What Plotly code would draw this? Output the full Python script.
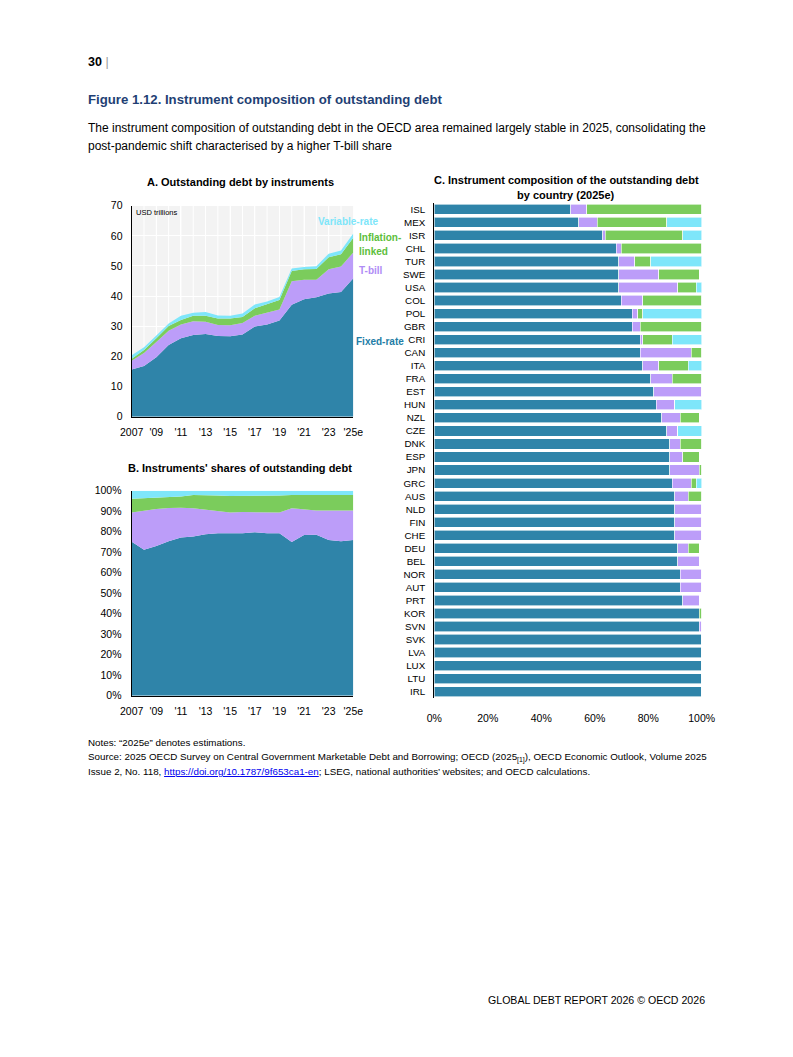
import plotly.graph_objects as go

# ---------------- DATA ----------------
years = list(range(2007, 2026))
year_tickvals = [2007, 2009, 2011, 2013, 2015, 2017, 2019, 2021, 2023, 2025]
year_ticktext = ["2007", "'09", "'11", "'13", "'15", "'17", "'19", "'21", "'23", "'25e"]

# Panel A: outstanding debt by instrument, USD trillions
fixed_usd    = [15.7, 16.8, 19.7, 23.8, 26.0, 27.1, 27.4, 26.8, 26.7, 27.3, 29.9, 30.6, 31.9, 37.1, 39.0, 39.6, 40.9, 41.4, 45.9]
tbill_usd    = [2.9, 4.3, 5.1, 4.7, 4.6, 4.6, 4.1, 3.6, 3.6, 3.8, 3.6, 3.9, 3.7, 7.8, 6.4, 5.8, 8.0, 8.4, 8.6]
infl_usd     = [0.6, 1.0, 1.2, 1.6, 1.5, 1.8, 2.0, 2.2, 2.3, 2.0, 2.5, 2.8, 3.1, 3.4, 3.5, 3.6, 4.0, 4.1, 4.9]
var_usd      = [1.2, 0.9, 0.9, 0.8, 1.4, 1.0, 1.2, 1.0, 0.9, 1.1, 1.2, 0.9, 1.0, 0.9, 0.8, 0.9, 1.2, 1.2, 1.4]

# Panel B: shares of outstanding debt, %
fixed_pct    = [75.1, 71.2, 73.0, 75.4, 77.2, 77.6, 78.7, 79.2, 79.2, 79.2, 79.7, 79.2, 79.2, 75.0, 78.4, 78.5, 75.9, 75.4, 75.9]
tbill_pct    = [14.3, 19.2, 18.1, 16.1, 14.5, 13.8, 12.0, 10.7, 10.2, 10.4, 9.9, 10.4, 10.2, 16.4, 12.5, 11.9, 14.5, 15.0, 14.5]
infl_pct     = [6.7, 5.9, 5.5, 5.4, 5.5, 6.5, 7.2, 7.7, 8.0, 7.8, 7.8, 7.8, 8.2, 6.5, 7.0, 7.5, 7.5, 7.5, 7.5]
var_pct      = [3.9, 3.7, 3.4, 3.1, 2.8, 2.1, 2.1, 2.4, 2.6, 2.6, 2.6, 2.6, 2.4, 2.1, 2.1, 2.1, 2.1, 2.1, 2.1]

# Panel C: composition by country, 2025e, %
countries = ["ISL", "MEX", "ISR", "CHL", "TUR", "SWE", "USA", "COL", "POL", "GBR", "CRI", "CAN", "ITA",
             "FRA", "EST", "HUN", "NZL", "CZE", "DNK", "ESP", "JPN", "GRC", "AUS", "NLD", "FIN", "CHE",
             "DEU", "BEL", "NOR", "AUT", "PRT", "KOR", "SVN", "SVK", "LVA", "LUX", "LTU", "IRL"]
fixed_c = [51, 54, 63, 68, 69, 69, 69, 70, 74, 74, 77, 77, 78, 81, 82, 83, 85, 87, 88, 88, 88, 89, 90, 90, 90, 90,
           91, 91, 92, 92, 93, 99, 99, 100, 100, 100, 100, 100]
tbill_c = [6, 7, 1, 2, 6, 15, 22, 8, 2, 3, 1, 19, 6, 8, 18, 7, 7, 4, 4, 5, 11, 7, 5, 10, 10, 10,
           4, 8, 8, 8, 6, 0, 1, 0, 0, 0, 0, 0]
infl_c  = [43, 26, 29, 30, 6, 15, 7, 22, 2, 23, 11, 4, 11, 11, 0, 0, 7, 0, 8, 6, 1, 2, 5, 0, 0, 0,
           4, 0, 0, 0, 0, 1, 0, 0, 0, 0, 0, 0]
var_c   = [0, 13, 7, 0, 19, 0, 2, 0, 22, 0, 11, 0, 5, 0, 0, 10, 0, 9, 0, 0, 0, 2, 0, 0, 0, 0,
           0, 0, 0, 0, 0, 0, 0, 0, 0, 0, 0, 0]
pct_ticks = [0, 20, 40, 60, 80, 100]
pct_labels = ["0%", "20%", "40%", "60%", "80%", "100%"]

# ---------------- STYLE ----------------
OFF = 8  # default body margin of the html page
W, H = 793 - 2 * OFF, 1057 - 2 * OFF
C_FIXED, C_TBILL, C_INFL, C_VAR = "#2F84A9", "#BC9DF9", "#7BCC5C", "#7EE6FA"
FONT = "Liberation Sans, Arial, sans-serif"
NAVY = "#1F3F74"


def px(x):
    return (x - OFF) / W


def py(y):
    return 1 - (y - OFF) / H


fig = go.Figure()

# Panel A
for name, vals, col in [("Fixed-rate", fixed_usd, C_FIXED), ("T-bill", tbill_usd, C_TBILL),
                        ("Inflation-linked", infl_usd, C_INFL), ("Variable-rate", var_usd, C_VAR)]:
    fig.add_trace(go.Scatter(x=years, y=vals, name=name, stackgroup="a", mode="lines",
                             line=dict(width=0, color=col), fillcolor=col,
                             xaxis="x", yaxis="y", showlegend=False))

# Panel B
for name, vals, col in [("Fixed-rate", fixed_pct, C_FIXED), ("T-bill", tbill_pct, C_TBILL),
                        ("Inflation-linked", infl_pct, C_INFL), ("Variable-rate", var_pct, C_VAR)]:
    fig.add_trace(go.Scatter(x=years, y=vals, name=name, stackgroup="b", mode="lines",
                             line=dict(width=0, color=col), fillcolor=col,
                             xaxis="x2", yaxis="y2", showlegend=False))

# Panel C
for name, vals, col in [("Fixed-rate", fixed_c, C_FIXED), ("T-bill", tbill_c, C_TBILL),
                        ("Inflation-linked", infl_c, C_INFL), ("Variable-rate", var_c, C_VAR)]:
    fig.add_trace(go.Bar(y=countries, x=vals, name=name, orientation="h",
                         marker=dict(color=col, line=dict(color="white", width=0.6)),
                         xaxis="x3", yaxis="y3", showlegend=False))

tickfont = dict(family=FONT, size=10.5, color="#000")

xa_common = dict(range=[2007, 2025], tickmode="array", tickvals=year_tickvals, ticktext=year_ticktext,
                 showline=True, linecolor="#000", linewidth=1.2, ticks="outside", ticklen=6,
                 tickcolor="rgba(0,0,0,0)", tickfont=tickfont, zeroline=False, automargin=False)

fig.update_layout(
    width=W, height=H, margin=dict(l=0, r=0, t=0, b=0, autoexpand=False),
    paper_bgcolor="white", plot_bgcolor="rgba(0,0,0,0)",
    barmode="stack", bargap=0.22,
    xaxis=dict(domain=[px(131.7), px(353.3)], anchor="y", **xa_common),
    yaxis=dict(domain=[py(416.7), py(205.7)], anchor="x", range=[0, 70], dtick=10,
               showline=True, linecolor="#000", linewidth=1.2, showgrid=True, gridcolor="white",
               gridwidth=1, ticks="outside", ticklen=6, tickcolor="rgba(0,0,0,0)", tickfont=tickfont,
               zeroline=False, automargin=False),
    xaxis2=dict(domain=[px(131.7), px(353.3)], anchor="y2", showgrid=False, **xa_common),
    yaxis2=dict(domain=[py(695.7), py(490.7)], anchor="x2", range=[0, 100], dtick=10, ticksuffix="%",
                showline=True, linecolor="#000", linewidth=1.2, showgrid=False,
                ticks="outside", ticklen=7, tickcolor="rgba(0,0,0,0)", tickfont=tickfont, zeroline=False,
                automargin=False),
    xaxis3=dict(domain=[px(434.3), px(701.7)], anchor="y3", range=[0, 100], tickmode="array",
                tickvals=pct_ticks, ticktext=pct_labels, showline=False, showgrid=False, zeroline=False,
                ticks="outside", ticklen=10, tickcolor="rgba(0,0,0,0)", tickfont=tickfont, automargin=False),
    yaxis3=dict(domain=[py(698.2), py(202.8)], anchor="x3", categoryorder="array", categoryarray=countries,
                tickmode="array", tickvals=countries, ticktext=countries,
                autorange="reversed", showline=True, linecolor="#000", linewidth=1.2, showgrid=False,
                ticks="outside", ticklen=6, tickcolor="rgba(0,0,0,0)",
                tickfont=dict(family=FONT, size=9.8, color="#000"), automargin=False),
)

# grey background with white grid for panel A
fig.add_shape(type="rect", xref="x", yref="y", x0=2007, x1=2025, y0=0, y1=70,
              fillcolor="#F3F3F3", line=dict(width=0), layer="below")
for yr in years[1:-1]:
    fig.add_shape(type="line", xref="x", yref="y", x0=yr, x1=yr, y0=0, y1=70,
                  line=dict(color="white", width=1), layer="below")

ann = []


def text(x, y, s, size, color="#000", xanchor="left", yanchor="middle", align="left"):
    ann.append(dict(x=px(x), y=py(y), xref="paper", yref="paper", text=s, showarrow=False,
                    font=dict(size=size, color=color, family=FONT), xanchor=xanchor,
                    yanchor=yanchor, align=align))


text(86, 62, "<b>30</b> <span style='color:#9a9a9a'>|</span>", 12.5)
text(86, 99, "<b>Figure 1.12. Instrument composition of outstanding debt</b>", 13.2, color=NAVY)
text(86, 128, "The instrument composition of outstanding debt in the OECD area remained largely stable in 2025, consolidating the", 12)
text(86, 146, "post-pandemic shift characterised by a higher T-bill share", 12)

text(240, 182, "<b>A. Outstanding debt by instruments</b>", 11, xanchor="center")
text(240, 468, "<b>B. Instruments' shares of outstanding debt</b>", 11, xanchor="center")
text(566, 180, "<b>C. Instrument composition of the outstanding debt</b>", 11, xanchor="center")
text(566, 195, "<b>by country (2025e)</b>", 11, xanchor="center")

text(134, 212, "USD trillions", 7.5)
text(380, 222, "<b>Variable-rate</b>", 10, color=C_VAR, xanchor="right")
text(357, 237, "<b>Inflation-</b>", 10, color="#5DBE3C")
text(357, 251, "<b>linked</b>", 10, color="#5DBE3C")
text(357, 270, "<b>T-bill</b>", 10, color="#B08CF6")
text(354, 341, "<b>Fixed-rate</b>", 10, color="#237DA6")

text(86, 742, "Notes: \u201c2025e\u201d denotes estimations.", 9.8)
text(86, 757, "Source: 2025 OECD Survey on Central Government Marketable Debt and Borrowing; OECD (2025<sub>[1]</sub>), "
     "OECD Economic Outlook, Volume 2025", 9.8)
text(86, 771, "Issue 2, No. 118, <span style='color:#0000EE'><u>https://doi.org/10.1787/9f653ca1-en</u></span>; "
     "LSEG, national authorities\u2019 websites; and OECD calculations.", 9.8)

text(707, 1000, "GLOBAL DEBT REPORT 2026 \u00a9 OECD 2026", 10.6, xanchor="right")

fig.update_layout(annotations=ann)

fig.write_html("out.html")
